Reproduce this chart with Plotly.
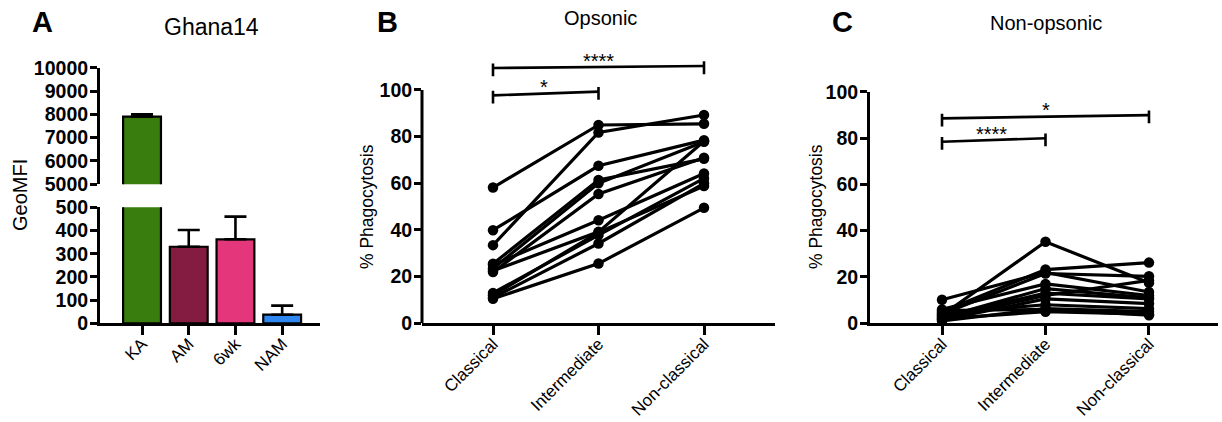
import plotly.graph_objects as go

W, H = 1222, 422
FONT = "Liberation Sans, Arial, sans-serif"

# ---------------- data ----------------
a_categories = ["KA", "AM", "6wk", "NAM"]
a_values = [7900, 330, 362, 37]
a_errors = [100, 72, 98, 39]
a_colors = ["#387D0E", "#841C41", "#E4367B", "#2E86F0"]
a_low_ticks = [0, 100, 200, 300, 400, 500]
a_high_ticks = [5000, 6000, 7000, 8000, 9000, 10000]

subset_categories = ["Classical", "Intermediate", "Non-classical"]
pct_ticks = [0, 20, 40, 60, 80, 100]

opsonic_classical = [58.2, 33.5, 39.9, 25.5, 23.5, 22.0, 25.0, 22.5, 13.0, 11.0, 12.0, 10.5]
opsonic_intermediate = [85.0, 81.8, 67.5, 61.4, 60.0, 55.4, 44.2, 39.2, 37.8, 34.2, 39.0, 25.6]
opsonic_nonclassical = [85.5, 89.3, 78.5, 70.5, 77.8, 71.0, 64.2, 78.0, 62.1, 60.0, 58.8, 49.5]

nonops_classical = [3.5, 10.2, 5.0, 4.0, 6.0, 2.5, 3.0, 2.0, 1.5, 4.5, 1.0, 2.0, 5.5]
nonops_intermediate = [35.2, 22.0, 23.2, 21.5, 17.0, 15.0, 13.0, 12.0, 10.5, 8.0, 6.3, 5.0, 6.0]
nonops_nonclassical = [17.5, 13.5, 26.2, 20.3, 12.0, 11.0, 10.5, 18.5, 8.5, 6.3, 5.0, 4.0, 3.5]

# significance brackets: (from index, to index, left y, right y, label)
opsonic_sig = [(0, 1, 97.7, 99.3, "*"), (0, 2, 109.4, 110.3, "****")]
nonops_sig = [(0, 1, 78.4, 79.9, "****"), (0, 2, 88.5, 89.9, "*")]


def px_x(p):
    return p / W


def px_y(p):
    return 1 - p / H


def bold(vals):
    return ["<b>%d</b>" % v for v in vals]


fig = go.Figure()

# ---------------- Panel A ----------------
xs_a = list(range(len(a_categories)))
bar_common = dict(
    x=xs_a,
    y=a_values,
    marker=dict(color=a_colors, line=dict(color="black", width=2.2)),
    width=0.81,
    error_y=dict(type="data", symmetric=False, array=a_errors,
                 arrayminus=[0] * len(a_errors), color="black",
                 thickness=2.6, width=11),
    showlegend=False,
    hoverinfo="x+y",
)
fig.add_trace(go.Bar(xaxis="x", yaxis="y", **bar_common))
fig.add_trace(go.Bar(xaxis="x", yaxis="y2", **bar_common))

# ---------------- Panel B / C lines ----------------
def add_pairs(cols, xa, ya):
    for vals in zip(*cols):
        fig.add_trace(go.Scatter(
            x=[0, 1, 2], y=list(vals), mode="lines+markers",
            xaxis=xa, yaxis=ya,
            line=dict(color="black", width=3.2),
            marker=dict(color="black", size=10.5),
            showlegend=False, hoverinfo="y",
        ))


add_pairs([opsonic_classical, opsonic_intermediate, opsonic_nonclassical], "x2", "y3")
add_pairs([nonops_classical, nonops_intermediate, nonops_nonclassical], "x3", "y4")

tickfont_bold = dict(family=FONT, size=19.5, color="black", weight=900)
catfont = dict(family=FONT, size=17, color="black")

common_y = dict(
    showgrid=False, zeroline=False, showline=True, linecolor="black",
    linewidth=3, ticks="outside", ticklen=7, tickwidth=3, tickcolor="black",
    tickfont=tickfont_bold, fixedrange=True, automargin=False,
    ticklabelstandoff=-2,
)
common_x = dict(
    showgrid=False, zeroline=False, showline=True, linecolor="black",
    linewidth=3, ticks="outside", ticklen=9, tickwidth=3, tickcolor="black",
    tickfont=catfont, tickangle=-45, fixedrange=True, automargin=False,
    ticklabelstandoff=-8,
)

fig.update_layout(
    template="none",
    width=W, height=H, autosize=False,
    margin=dict(l=0, r=0, t=0, b=0, pad=0, autoexpand=False),
    paper_bgcolor="white", plot_bgcolor="white",
    font=dict(family=FONT, color="black"),
    bargap=0.2,
    xaxis=dict(domain=[px_x(100), px_x(320)], anchor="y", range=[-0.9, 3.81],
               tickvals=xs_a, ticktext=a_categories, **common_x),
    yaxis=dict(domain=[px_y(323.3), px_y(207.3)], anchor="x", range=[0, 500],
               tickvals=a_low_ticks, ticktext=bold(a_low_ticks), **common_y),
    yaxis2=dict(domain=[px_y(184.3), px_y(67.7)], anchor="x", range=[5000, 10000],
                tickvals=a_high_ticks, ticktext=bold(a_high_ticks), **common_y),
    xaxis2=dict(domain=[px_x(422), px_x(775)], anchor="y3", range=[-0.673, 2.673],
                tickvals=[0, 1, 2], ticktext=subset_categories, **common_x),
    yaxis3=dict(domain=[px_y(323.3), px_y(48)], anchor="x2", range=[0, 118],
                tickvals=pct_ticks, ticktext=bold(pct_ticks),
                **{**common_y, "showline": False}),
    xaxis3=dict(domain=[px_x(870), px_x(1218)], anchor="y4", range=[-0.696, 2.667],
                tickvals=[0, 1, 2], ticktext=subset_categories, **common_x),
    yaxis4=dict(domain=[px_y(323.3), px_y(91.7)], anchor="x3", range=[0, 100],
                tickvals=pct_ticks, ticktext=bold(pct_ticks), **common_y),
)

shapes = []
# B y-axis line drawn only up to 100
shapes.append(dict(type="line", xref="x2 domain", yref="y3", x0=0, x1=0,
                   y0=0, y1=100, line=dict(color="black", width=3)))

annotations = []


def add_brackets(sig, xa, ya, star_offset):
    for (i0, i1, yl, yr, label) in sig:
        ln = dict(color="black", width=2.6)
        shapes.append(dict(type="line", xref=xa, yref=ya, x0=i0, x1=i1, y0=yl, y1=yr, line=ln))
        shapes.append(dict(type="line", xref=xa, yref=ya, x0=i0, x1=i0, y0=yl - 3.5, y1=yl + 2, line=ln))
        shapes.append(dict(type="line", xref=xa, yref=ya, x0=i1, x1=i1, y0=yr - 3.5, y1=yr + 2, line=ln))
        xm = (i0 + i1) / 2 if i1 - i0 == 2 else (i0 + i1) / 2 - 0.02
        annotations.append(dict(xref=xa, yref=ya, x=xm, y=max(yl, yr) + star_offset,
                                text=label, showarrow=False,
                                font=dict(family=FONT, size=20, color="black"),
                                xanchor="center", yanchor="middle"))


add_brackets(opsonic_sig, "x2", "y3", 2.0)
add_brackets(nonops_sig, "x3", "y4", 2.0)

# panel letters & titles
for txt, x, y in [("A", 42, 22), ("B", 387, 22), ("C", 842, 22)]:
    annotations.append(dict(xref="paper", yref="paper", x=px_x(x), y=px_y(y), text="<b>%s</b>" % txt,
                            showarrow=False, xanchor="center", yanchor="middle",
                            font=dict(family=FONT, size=29, color="black")))
for txt, x, y, s in [("Ghana14", 212, 27, 23), ("Opsonic", 600, 18, 20), ("Non-opsonic", 1046, 23, 20)]:
    annotations.append(dict(xref="paper", yref="paper", x=px_x(x), y=px_y(y), text=txt,
                            showarrow=False, xanchor="center", yanchor="middle",
                            font=dict(family=FONT, size=s, color="black")))
# y-axis titles
for txt, x, y, s in [("GeoMFI", 20, 195, 20), ("% Phagocytosis", 367, 207, 17.5),
                     ("% Phagocytosis", 816, 207, 17.5)]:
    annotations.append(dict(xref="paper", yref="paper", x=px_x(x), y=px_y(y), text=txt,
                            showarrow=False, xanchor="center", yanchor="middle", textangle=-90,
                            font=dict(family=FONT, size=s, color="black")))

fig.update_layout(shapes=shapes, annotations=annotations)
fig.write_html(
    "out.html",
    config={"displayModeBar": False, "responsive": False},
    post_script=(
        "var s=document.createElement('style');"
        "s.textContent='html,body{margin:0;padding:0;width:1222px;height:422px;overflow:hidden;}"
        "body>div{height:422px;overflow:hidden;}';"
        "document.head.appendChild(s);"
    ),
)
